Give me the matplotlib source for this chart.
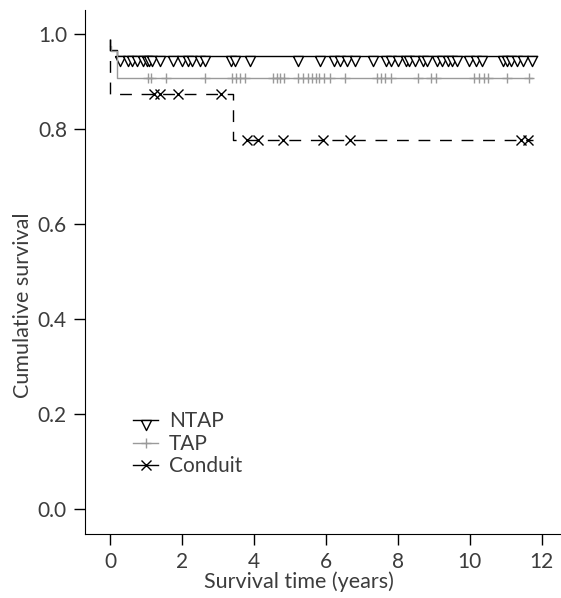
import numpy as np
import matplotlib.pyplot as plt
from matplotlib.lines import Line2D

# Kaplan-Meier step data
ntap_event_times = [0.0, 0.19]
ntap_surv = [0.988, 0.967, 0.955]
ntap_end = 11.86
ntap_censored = [0.28, 0.51, 0.60, 0.74, 0.93, 1.02, 1.09, 1.16, 1.39, 1.76,
                 1.99, 2.18, 2.27, 2.50, 2.64, 3.36, 3.48, 3.90, 5.24, 5.83,
                 6.23, 6.40, 6.60, 6.81, 7.32, 7.67, 7.81, 8.00, 8.22, 8.31,
                 8.48, 8.71, 8.82, 9.08, 9.22, 9.41, 9.52, 9.66, 9.98, 10.19,
                 10.33, 10.93, 11.03, 11.15, 11.31, 11.49, 11.72]

tap_event_times = [0.02, 0.19]
tap_surv = [0.975, 0.965, 0.908]
tap_end = 11.72
tap_censored = [1.06, 1.14, 1.56, 2.64, 3.38, 3.50, 3.62, 3.75, 4.53, 4.64,
                4.74, 4.84, 5.24, 5.38, 5.50, 5.62, 5.72, 5.82, 5.95, 6.13,
                6.53, 7.42, 7.53, 7.65, 7.80, 8.57, 8.92, 9.07, 10.12, 10.26,
                10.40, 10.52, 11.03, 11.65]

conduit_event_times = [0.0, 3.43]
conduit_surv = [0.99, 0.874, 0.777]
conduit_end = 11.77
conduit_censored = [1.22, 1.39, 1.90, 3.10, 3.80, 4.12, 4.82, 5.93, 6.67,
                    11.42, 11.63]

labels = ["NTAP", "TAP", "Conduit"]

plt.rcParams['font.family'] = ['Lato', 'DejaVu Sans']
text_col = '#3c3c3c'
grey = '#9a9a9a'

# triangle hanging below the line
tri = [(-1, 0), (1, 0), (0, -2), (-1, 0)]


def km_arrays(times, surv, end):
    x = [0.0] + list(times) + [end]
    y = list(surv) + [surv[-1]]
    return np.array(x), np.array(y)


def surv_at(times, surv, t):
    idx = np.searchsorted(times, t, side='right')
    return np.array(surv)[idx]


fig = plt.figure(figsize=(5.61, 5.98), dpi=100)
ax = fig.add_axes([0.1515, 0.107, 0.8485, 0.8763])

# NTAP
x, y = km_arrays(ntap_event_times, ntap_surv, ntap_end)
ax.step(x, y, where='post', color='black', lw=1.0)
ax.plot(ntap_censored, surv_at(ntap_event_times, ntap_surv, ntap_censored),
        ls='none', marker=tri, ms=14.5, mfc='white', mec='black', mew=1.0)

# TAP
x, y = km_arrays(tap_event_times, tap_surv, tap_end)
ax.step(x, y, where='post', color=grey, lw=1.0)
ax.plot(tap_censored, surv_at(tap_event_times, tap_surv, tap_censored),
        ls='none', marker='+', ms=7.5, mec=grey, mew=1.0)

# Conduit
x, y = km_arrays(conduit_event_times, conduit_surv, conduit_end)
ax.step(x, y, where='post', color='black', lw=1.0, ls=(0, (8.5, 7)))
ax.plot(conduit_censored,
        surv_at(conduit_event_times, conduit_surv, conduit_censored),
        ls='none', marker='x', ms=7.5, mec='black', mew=1.0)

ax.set_xlim(-0.695, 12.54)
ax.set_ylim(-0.0527, 1.051)
ax.set_xticks(range(0, 13, 2))
ax.set_yticks([0.0, 0.2, 0.4, 0.6, 0.8, 1.0])
ax.set_yticklabels(["0.0", "0.2", "0.4", "0.6", "0.8", "1.0"])
ax.spines['top'].set_visible(False)
ax.spines['right'].set_visible(False)
ax.tick_params(length=8, width=1, labelsize=15, colors='black',
               labelcolor=text_col, pad=5)
ax.set_xlabel("Survival time (years)", fontsize=15.5, color=text_col)
ax.set_ylabel("Cumulative survival", fontsize=15.5, color=text_col)
ax.xaxis.set_label_coords(0.45, -0.072)
ax.yaxis.set_label_coords(-0.11, 0.437)

handles = [
    Line2D([], [], color='black', lw=1.0, marker=tri, ms=14.5,
           mfc='white', mec='black'),
    Line2D([], [], color=grey, lw=1.0, marker='+', ms=7.5),
    Line2D([], [], color='black', lw=1.0, marker='x', ms=7.5),
]
leg = ax.legend(handles, labels, loc='lower left', bbox_to_anchor=(0.08, 0.09),
                frameon=False, fontsize=15, handlelength=1.2, handletextpad=0.5,
                labelspacing=0.12, borderpad=0)
for t in leg.get_texts():
    t.set_color(text_col)

plt.savefig("out.png", dpi=100)
